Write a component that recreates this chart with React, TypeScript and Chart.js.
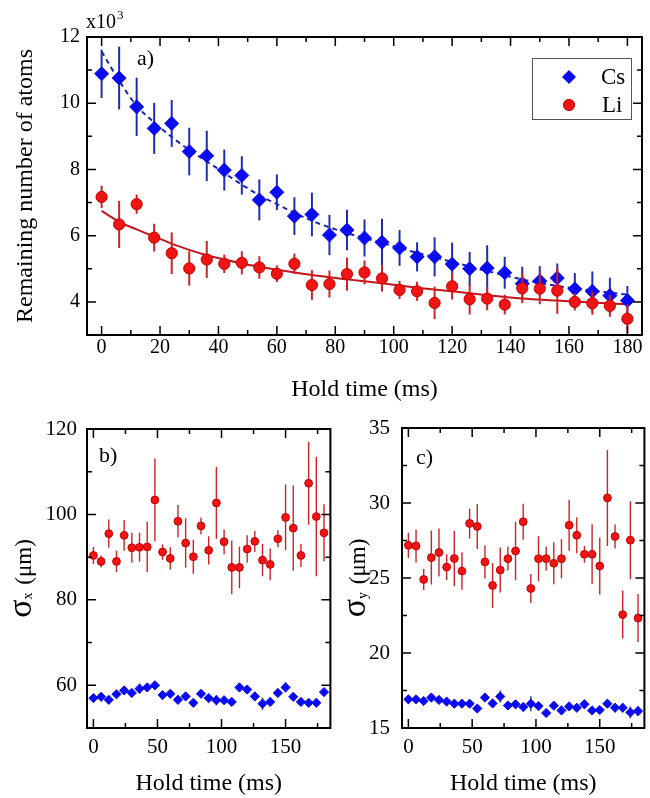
import React, { useEffect, useRef } from "react";
import { Chart, registerables } from "chart.js";

Chart.register(...registerables);

const SERIF = "'Liberation Serif', 'Times New Roman', Times, serif";

// ---------- data ----------
const holdTime = [0, 6, 12, 18, 24, 30, 36, 42, 48, 54, 60, 66, 72, 78, 84, 90, 96, 102, 108, 114, 120, 126, 132, 138, 144, 150, 156, 162, 168, 174, 180];

// panel a: remaining atom number (x10^3)
const csAtoms = [10.89, 10.76, 9.89, 9.24, 9.39, 8.54, 8.41, 7.98, 7.82, 7.08, 7.31, 6.59, 6.64, 6.02, 6.17, 5.93, 5.8, 5.63, 5.36, 5.36, 5.14, 5.0, 5.02, 4.88, 4.55, 4.63, 4.72, 4.39, 4.32, 4.19, 4.04];
const csAtomsErr = [0.73, 0.95, 0.88, 0.77, 0.71, 0.72, 0.76, 0.62, 0.58, 0.62, 0.54, 0.57, 0.66, 0.61, 0.61, 0.56, 0.71, 0.54, 0.44, 0.59, 0.65, 0.51, 0.69, 0.48, 0.51, 0.45, 0.44, 0.48, 0.6, 0.54, 0.44];
const liAtoms = [7.17, 6.34, 6.95, 5.94, 5.47, 5.01, 5.28, 5.15, 5.18, 5.04, 4.85, 5.15, 4.51, 4.54, 4.84, 4.89, 4.71, 4.36, 4.32, 3.97, 4.47, 4.08, 4.1, 3.92, 4.41, 4.4, 4.34, 4.0, 3.96, 3.88, 3.49];
const liAtomsErr = [0.34, 0.71, 0.29, 0.42, 0.63, 0.52, 0.56, 0.28, 0.35, 0.34, 0.25, 0.31, 0.45, 0.41, 0.5, 0.36, 0.4, 0.27, 0.29, 0.49, 0.4, 0.46, 0.35, 0.3, 0.45, 0.47, 0.7, 0.26, 0.35, 0.33, 0.43];

// fitted curves of panel a
const fitTime = [0, 6, 12, 18, 24, 30, 36, 42, 48, 54, 60, 72, 84, 96, 108, 120, 132, 144, 156, 168, 180];
const csFit = [11.56, 10.68, 9.92, 9.42, 8.98, 8.59, 8.24, 7.89, 7.54, 7.22, 6.95, 6.45, 6.08, 5.78, 5.48, 5.21, 4.93, 4.68, 4.48, 4.34, 4.22];
const liFit = [6.75, 6.42, 6.19, 5.97, 5.76, 5.57, 5.41, 5.28, 5.16, 5.06, 4.97, 4.81, 4.68, 4.56, 4.43, 4.32, 4.2, 4.1, 4.04, 3.98, 3.93];

// panel b: sigma_x (um)
const liSigmaX = [90.4, 89.0, 95.5, 89.0, 95.1, 92.2, 92.3, 92.4, 103.4, 91.2, 89.7, 98.4, 93.3, 90.1, 97.3, 91.6, 102.7, 93.6, 87.6, 87.6, 91.9, 93.7, 89.3, 88.3, 94.3, 99.3, 96.8, 90.4, 107.3, 99.5, 95.7];
const liSigmaXErr = [2.0, 1.4, 3.3, 2.5, 3.6, 3.5, 3.4, 5.9, 9.7, 1.8, 2.6, 3.8, 5.8, 4.0, 2.0, 3.3, 8.4, 2.9, 6.3, 4.9, 3.2, 2.5, 3.8, 3.7, 2.0, 7.7, 10.0, 2.7, 9.7, 14.0, 6.7];
const csSigmaX = [57.0, 57.3, 56.6, 57.9, 58.8, 58.2, 59.2, 59.5, 60.0, 57.7, 58.0, 56.6, 57.4, 55.9, 58.0, 57.0, 56.5, 56.5, 56.1, 59.5, 59.0, 57.4, 55.7, 56.1, 58.2, 59.5, 57.3, 56.1, 55.9, 55.9, 58.4];
const csSigmaXErr = [0.8, 0.8, 0.7, 0.8, 0.9, 0.8, 1.2, 1.0, 0.9, 0.7, 0.8, 1.0, 0.8, 0.8, 0.8, 0.9, 1.2, 0.8, 0.8, 1.0, 0.9, 1.0, 1.4, 0.9, 1.0, 1.2, 0.9, 0.7, 0.9, 1.0, 0.9];

// panel c: sigma_y (um)
const liSigmaY = [27.18, 27.14, 24.9, 26.36, 26.7, 25.73, 26.3, 25.46, 28.64, 28.44, 26.07, 24.5, 25.53, 26.29, 26.8, 28.75, 24.3, 26.29, 26.29, 25.98, 26.29, 28.52, 27.85, 26.58, 26.58, 25.8, 30.34, 27.77, 22.56, 27.52, 22.33];
const liSigmaYErr = [0.84, 1.1, 0.7, 1.8, 1.6, 0.86, 1.85, 1.25, 1.0, 1.5, 1.1, 1.5, 1.5, 0.8, 1.95, 1.2, 0.97, 1.5, 0.8, 1.4, 1.3, 1.7, 1.2, 0.56, 2.0, 1.9, 3.2, 0.8, 1.6, 2.6, 1.6];
const csSigmaY = [16.91, 16.91, 16.8, 17.03, 16.87, 16.76, 16.62, 16.62, 16.62, 16.3, 17.03, 16.64, 17.1, 16.5, 16.58, 16.4, 16.62, 16.46, 16.0, 16.49, 16.17, 16.44, 16.35, 16.58, 16.17, 16.2, 16.62, 16.35, 16.35, 16.04, 16.13];
const csSigmaYErr = [0.2, 0.2, 0.2, 0.2, 0.2, 0.2, 0.2, 0.2, 0.2, 0.2, 0.2, 0.2, 0.4, 0.2, 0.2, 0.3, 0.5, 0.2, 0.2, 0.2, 0.2, 0.2, 0.2, 0.3, 0.2, 0.2, 0.2, 0.3, 0.3, 0.4, 0.3];

// ticks
const aXMajor = [0, 20, 40, 60, 80, 100, 120, 140, 160, 180];
const aXMinor = [10, 30, 50, 70, 90, 110, 130, 150, 170];
const aYMajor = [4, 6, 8, 10, 12];
const aYMinor = [3, 5, 7, 9, 11];
const bcXMajor = [0, 50, 100, 150];
const bcXMinor = [25, 75, 125, 175];
const bYMajor = [60, 80, 100, 120];
const bYMinor = [50, 70, 90, 110];
const cYMajor = [15, 20, 25, 30, 35];
const cYMinor = [17.5, 22.5, 27.5, 32.5];

const seriesNames = ["Cs", "Li"];
const xTitle = "Hold time (ms)";
const aYTitle = "Remaining number of atoms";

// ---------- styles ----------
const CS_FILL = "#0b0bf2";
const CS_ERR = "#1f2db4";
const LI_FILL = "#f01414";
const LI_EDGE = "#c40000";
const LI_ERR = "#cc2424";

const pts = (xs: number[], ys: number[]) => xs.map((x, i) => ({ x, y: ys[i] }));

type Spec = {
  left: number; top: number; width: number; height: number;
  padTop: number; padRight: number; yWidth: number; xHeight: number;
  xMin: number; xMax: number; yMin: number; yMax: number;
  xMajor: number[]; xMinor: number[]; yMajor: number[]; yMinor: number[];
  tickSize: number; xTickPad: number; yTickPad: number;
  xTitlePad: number; yTitle?: string; yTitlePad?: number;
  datasets: any[];
  decorate: (ctx: CanvasRenderingContext2D, chart: any) => void;
};

function drawSigmaTitle(ctx: CanvasRenderingContext2D, bx: number, cy: number, sub: string, subDy: number) {
  ctx.save();
  ctx.translate(bx, cy);
  ctx.rotate(-Math.PI / 2);
  ctx.fillStyle = "#000";
  ctx.textAlign = "left";
  ctx.textBaseline = "alphabetic";
  const big = `34px ${SERIF}`;
  const small = `14px ${SERIF}`;
  const mid = `23px ${SERIF}`;
  ctx.font = big; const w1 = ctx.measureText("σ").width;
  ctx.font = small; const w2 = ctx.measureText(sub).width;
  ctx.font = mid; const w3 = ctx.measureText(" (μm)").width;
  let x = -(w1 + w2 + w3 + 2) / 2;
  ctx.font = big; ctx.fillText("σ", x, 0); x += w1;
  ctx.font = small; ctx.fillText(sub, x, subDy); x += w2 + 2;
  ctx.font = mid; ctx.fillText(" (μm)", x, 0);
  ctx.restore();
}

const panelA: Spec = {
  left: 0, top: 0, width: 650, height: 410,
  padTop: 37, padRight: 3, yWidth: 87, xHeight: 75,
  xMin: -5, xMax: 185, yMin: 3, yMax: 12,
  xMajor: aXMajor, xMinor: aXMinor, yMajor: aYMajor, yMinor: aYMinor,
  tickSize: 20, xTickPad: 1, yTickPad: 7,
  xTitlePad: 6, yTitle: aYTitle, yTitlePad: 11,
  datasets: [
    {
      label: seriesNames[1], data: pts(holdTime, liAtoms), errors: liAtomsErr, errorColor: LI_ERR, errorWidth: 2,
      pointStyle: "circle", pointRadius: 5.6, backgroundColor: LI_FILL, borderColor: LI_EDGE, borderWidth: 1, showLine: false, order: 0,
    },
    {
      label: seriesNames[0], data: pts(holdTime, csAtoms), errors: csAtomsErr, errorColor: CS_ERR, errorWidth: 2,
      pointStyle: "rectRot", pointRadius: 7, backgroundColor: CS_FILL, borderColor: CS_FILL, borderWidth: 1, showLine: false, order: 1,
    },
    {
      label: "Cs fit", data: pts(fitTime, csFit), showLine: true, pointRadius: 0, borderColor: "#1a28a8", borderWidth: 2,
      borderDash: [5, 4], cubicInterpolationMode: "monotone", fill: false, order: 2,
    },
    {
      label: "Li fit", data: pts(fitTime, liFit), showLine: true, pointRadius: 0, borderColor: "#c4141c", borderWidth: 2,
      cubicInterpolationMode: "monotone", fill: false, order: 3,
    },
  ],
  decorate: (ctx, chart) => {
    const a = chart.chartArea;
    ctx.fillStyle = "#000";
    ctx.textAlign = "left";
    ctx.textBaseline = "alphabetic";
    ctx.font = `20px ${SERIF}`;
    ctx.fillText("x10", a.left - 1, a.top - 9);
    const w = ctx.measureText("x10").width;
    ctx.font = `13px ${SERIF}`;
    ctx.fillText("3", a.left + w, a.top - 18);
    ctx.font = `22px ${SERIF}`;
    ctx.textBaseline = "middle";
    ctx.fillText("a)", 137, 59);
    // legend box
    ctx.strokeStyle = "#555";
    ctx.lineWidth = 1;
    ctx.strokeRect(532.5, 58.5, 99, 61);
    // Cs diamond
    ctx.fillStyle = CS_FILL;
    ctx.beginPath();
    ctx.moveTo(569, 70); ctx.lineTo(576, 77); ctx.lineTo(569, 84); ctx.lineTo(562, 77); ctx.closePath();
    ctx.fill();
    // Li circle
    ctx.fillStyle = LI_FILL;
    ctx.strokeStyle = LI_EDGE;
    ctx.beginPath();
    ctx.arc(569, 105, 5.6, 0, Math.PI * 2);
    ctx.fill(); ctx.stroke();
    ctx.fillStyle = "#000";
    ctx.font = `23px ${SERIF}`;
    ctx.fillText(seriesNames[0], 601, 78);
    ctx.fillText(seriesNames[1], 602, 106);
  },
};

const panelB: Spec = {
  left: 0, top: 400, width: 336, height: 398,
  padTop: 29, padRight: 4, yWidth: 87, xHeight: 70,
  xMin: -5, xMax: 185, yMin: 50, yMax: 120,
  xMajor: bcXMajor, xMinor: bcXMinor, yMajor: bYMajor, yMinor: bYMinor,
  tickSize: 21, xTickPad: 7, yTickPad: 10,
  xTitlePad: 0,
  datasets: [
    {
      label: seriesNames[1], data: pts(holdTime, liSigmaX), errors: liSigmaXErr, errorColor: LI_ERR, errorWidth: 1.4,
      pointStyle: "circle", pointRadius: 3.9, backgroundColor: LI_FILL, borderColor: LI_EDGE, borderWidth: 1, showLine: false, order: 0,
    },
    {
      label: seriesNames[0], data: pts(holdTime, csSigmaX), errors: csSigmaXErr, errorColor: CS_ERR, errorWidth: 1.4,
      pointStyle: "rectRot", pointRadius: 4.6, backgroundColor: CS_FILL, borderColor: CS_FILL, borderWidth: 1, showLine: false, order: 1,
    },
  ],
  decorate: (ctx, chart) => {
    ctx.fillStyle = "#000";
    ctx.textAlign = "left";
    ctx.textBaseline = "middle";
    ctx.font = `22px ${SERIF}`;
    ctx.fillText("b)", 99, 56);
    drawSigmaTitle(ctx, 31, (chart.chartArea.top + chart.chartArea.bottom) / 2, "x", 1);
  },
};

const panelC: Spec = {
  left: 336, top: 400, width: 314, height: 398,
  padTop: 28, padRight: 3, yWidth: 66, xHeight: 70,
  xMin: -5, xMax: 185, yMin: 15, yMax: 35,
  xMajor: bcXMajor, xMinor: bcXMinor, yMajor: cYMajor, yMinor: cYMinor,
  tickSize: 21, xTickPad: 7, yTickPad: 12,
  xTitlePad: 0,
  datasets: [
    {
      label: seriesNames[1], data: pts(holdTime, liSigmaY), errors: liSigmaYErr, errorColor: LI_ERR, errorWidth: 1.4,
      pointStyle: "circle", pointRadius: 3.9, backgroundColor: LI_FILL, borderColor: LI_EDGE, borderWidth: 1, showLine: false, order: 0,
    },
    {
      label: seriesNames[0], data: pts(holdTime, csSigmaY), errors: csSigmaYErr, errorColor: CS_ERR, errorWidth: 1.4,
      pointStyle: "rectRot", pointRadius: 4.6, backgroundColor: CS_FILL, borderColor: CS_FILL, borderWidth: 1, showLine: false, order: 1,
    },
  ],
  decorate: (ctx, chart) => {
    ctx.fillStyle = "#000";
    ctx.textAlign = "left";
    ctx.textBaseline = "middle";
    ctx.font = `22px ${SERIF}`;
    ctx.fillText("c)", 80, 58);
    drawSigmaTitle(ctx, 29, (chart.chartArea.top + chart.chartArea.bottom) / 2, "y", 2);
  },
};

function buildConfig(spec: Spec): any {
  const framePlugin = {
    id: "frameAndErrors",
    beforeDatasetDraw(chart: any, args: any) {
      const ds: any = chart.data.datasets[args.index];
      if (!ds.errors) return;
      const { ctx, chartArea: a } = chart;
      const xs = chart.scales.x;
      const ys = chart.scales.y;
      ctx.save();
      ctx.beginPath();
      ctx.rect(a.left, a.top, a.right - a.left, a.bottom - a.top);
      ctx.clip();
      ctx.strokeStyle = ds.errorColor;
      ctx.lineWidth = ds.errorWidth;
      ds.data.forEach((p: any, i: number) => {
        const e = ds.errors[i];
        const px = xs.getPixelForValue(p.x);
        ctx.beginPath();
        ctx.moveTo(px, ys.getPixelForValue(p.y - e));
        ctx.lineTo(px, ys.getPixelForValue(p.y + e));
        ctx.stroke();
      });
      ctx.restore();
    },
    afterDraw(chart: any) {
      const { ctx, chartArea: a } = chart;
      const xs = chart.scales.x;
      const ys = chart.scales.y;
      ctx.save();
      ctx.strokeStyle = "#000";
      ctx.lineWidth = 1.5;
      const xt = (vals: number[], len: number) => {
        vals.forEach((v) => {
          const px = xs.getPixelForValue(v);
          ctx.beginPath();
          ctx.moveTo(px, a.bottom); ctx.lineTo(px, a.bottom - len);
          ctx.moveTo(px, a.top); ctx.lineTo(px, a.top + len);
          ctx.stroke();
        });
      };
      const yt = (vals: number[], len: number) => {
        vals.forEach((v) => {
          const py = ys.getPixelForValue(v);
          ctx.beginPath();
          ctx.moveTo(a.left, py); ctx.lineTo(a.left + len, py);
          ctx.moveTo(a.right, py); ctx.lineTo(a.right - len, py);
          ctx.stroke();
        });
      };
      xt(spec.xMajor, 9); xt(spec.xMinor, 5);
      yt(spec.yMajor, 9); yt(spec.yMinor, 5);
      ctx.lineWidth = 2;
      ctx.strokeRect(a.left, a.top, a.right - a.left, a.bottom - a.top);
      spec.decorate(ctx, chart);
      ctx.restore();
    },
  };

  const tickFont = { family: SERIF, size: spec.tickSize };
  const titleFont = { family: SERIF, size: 24 };
  return {
    type: "scatter",
    data: { datasets: spec.datasets },
    options: {
      responsive: false,
      animation: false,
      layout: { padding: { left: 0, top: spec.padTop, right: spec.padRight, bottom: 0 } },
      plugins: { legend: { display: false }, tooltip: { enabled: false } },
      scales: {
        x: {
          type: "linear",
          min: spec.xMin,
          max: spec.xMax,
          afterFit: (s: any) => { s.height = spec.xHeight; },
          afterBuildTicks: (s: any) => {
            s.ticks = [...spec.xMajor, ...spec.xMinor].sort((p, q) => p - q).map((v) => ({ value: v }));
          },
          grid: { display: false, drawTicks: false },
          border: { display: false },
          ticks: {
            autoSkip: false, maxRotation: 0, minRotation: 0, padding: spec.xTickPad, font: tickFont, color: "#000",
            callback: (v: number) => (spec.xMajor.includes(v) ? String(v) : ""),
          },
          title: { display: true, text: xTitle, font: titleFont, color: "#000", padding: { top: 0, bottom: spec.xTitlePad } },
        },
        y: {
          type: "linear",
          min: spec.yMin,
          max: spec.yMax,
          afterFit: (s: any) => { s.width = spec.yWidth; },
          afterBuildTicks: (s: any) => {
            s.ticks = [...spec.yMajor, ...spec.yMinor].sort((p, q) => p - q).map((v) => ({ value: v }));
          },
          grid: { display: false, drawTicks: false },
          border: { display: false },
          ticks: {
            autoSkip: false, padding: spec.yTickPad, font: tickFont, color: "#000",
            callback: (v: number) => (spec.yMajor.includes(v) ? String(v) : ""),
          },
          title: {
            display: !!spec.yTitle, text: spec.yTitle || "", font: titleFont, color: "#000",
            padding: { top: spec.yTitlePad || 0, bottom: 0 },
          },
        },
      },
    },
    plugins: [framePlugin],
  };
}

function Panel({ spec }: { spec: Spec }) {
  const ref = useRef<HTMLCanvasElement>(null);
  useEffect(() => {
    const chart = new Chart(ref.current as HTMLCanvasElement, buildConfig(spec));
    return () => chart.destroy();
  }, [spec]);
  return (
    <canvas
      ref={ref}
      width={spec.width}
      height={spec.height}
      style={{ position: "absolute", left: spec.left, top: spec.top, width: spec.width, height: spec.height }}
    />
  );
}

export default function App() {
  return (
    <div style={{ position: "absolute", left: 0, top: 0, width: 650, height: 798, background: "#fff", overflow: "hidden" }}>
      <Panel spec={panelA} />
      <Panel spec={panelB} />
      <Panel spec={panelC} />
    </div>
  );
}
